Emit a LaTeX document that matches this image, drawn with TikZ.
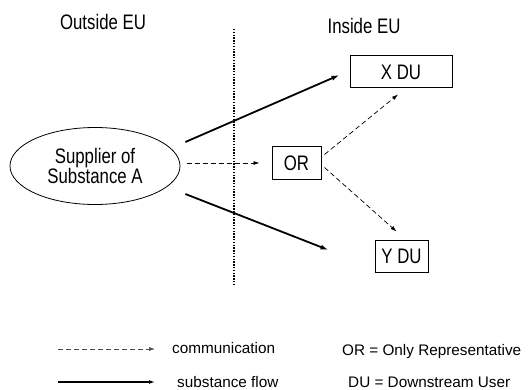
\documentclass[tikz,border=0pt]{standalone}
\usepackage{fontspec}
\setmainfont{Liberation Sans}
\newfontfamily\narrowfont[FakeStretch=0.8]{Liberation Sans}
\usetikzlibrary{arrows.meta,shapes.geometric,calc}
\begin{document}
\begin{tikzpicture}[x=1pt,y=-1pt,
  dia/.style={font=\narrowfont\fontsize{21}{24}\selectfont},
  leg/.style={font=\fontsize{15.3}{18}\selectfont, inner sep=0pt},
  boxnode/.style={dia, draw, line width=1pt, minimum height=32pt, inner sep=0pt},
  flow/.style={line width=1.8pt, -{Latex[length=8pt,width=5pt]}},
  comm/.style={line width=0.7pt, dash pattern=on 5pt off 3pt, -{Latex[length=6pt,width=4pt]}},
  border/.style={line width=2.2pt, dash pattern=on 1.4pt off 1.4pt}]
\useasboundingbox (0,0) rectangle (529,390);

\node[dia] (outside) at (103,22) {Outside EU};
\node[dia] (inside) at (364,26) {Inside EU};

\coordinate (btop) at (234,29);
\coordinate (bbot) at (234,285);
\draw[border] (btop) -- (bbot);

\node[dia, draw, ellipse, line width=0.8pt, minimum width=170pt, minimum height=77pt, inner sep=0pt, align=center] (sup) at (95,166) {Supplier of\\[-4pt]Substance A};

\node[boxnode, minimum width=102pt] (xdu) at (401,72) {X DU};
\node[boxnode, minimum width=49pt] (or) at (296.5,163) {OR};
\node[boxnode, minimum width=53pt] (ydu) at (401.5,256) {Y DU};

\draw[flow] ([xshift=5pt,yshift=24pt]sup.east) -- ([xshift=-10pt,yshift=-3pt]xdu.west);
\draw[flow] ([xshift=5pt,yshift=-28pt]sup.east) -- ([xshift=-46pt,yshift=6pt]ydu.west);
\draw[comm] ([xshift=7pt,yshift=3pt]sup.east) -- ([xshift=-12pt]or.west);
\draw[comm] ([xshift=3pt,yshift=-8pt]or.north east) -- ([xshift=-3pt,yshift=-6pt]xdu.south);
\draw[comm] ([xshift=3pt,yshift=12pt]or.south east) -- ([xshift=-5pt,yshift=8pt]ydu.north);

\coordinate (l1a) at (58,349);
\coordinate (l1b) at (155,349);
\coordinate (l2a) at (58,382);
\coordinate (l2b) at (155,382);
\draw[comm, draw=black!70, line width=0.6pt] (l1a) -- (l1b);
\draw[flow, line width=1.5pt, -{Latex[length=6pt,width=4pt]}] (l2a) -- (l2b);
\node[leg, anchor=west] (lcomm) at (172,348) {communication};
\node[leg, anchor=west] (lflow) at (177,382) {substance flow};
\node[leg, anchor=west] (lor) at (342,352) {OR = Only Representative};
\node[leg, anchor=west] (ldu) at (348,382) {DU = Downstream User};
\end{tikzpicture}
\end{document}
